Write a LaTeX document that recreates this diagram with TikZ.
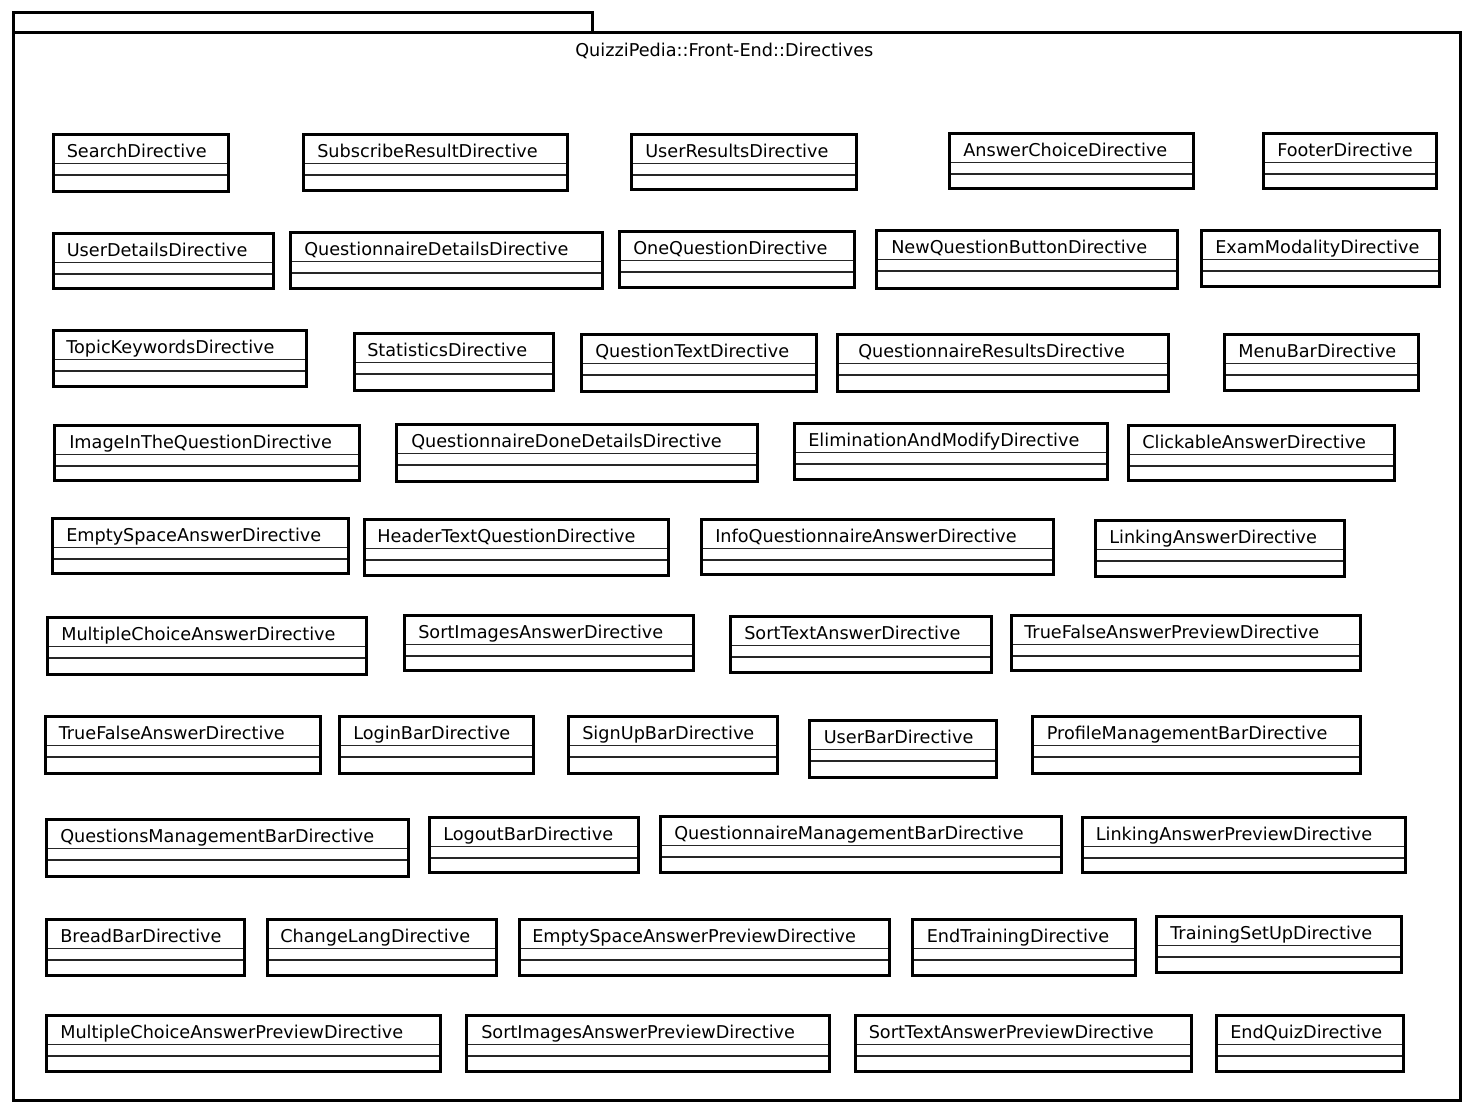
\documentclass[tikz,border=0pt]{standalone}
\usepackage{fontspec}
\setmainfont{DejaVu Sans}
\begin{document}
\begin{tikzpicture}[x=0.75pt,y=-0.75pt,
  pkgline/.style={line width=2.25pt,line join=miter},
  clsborder/.style={line width=2.25pt,line join=miter,fill=white},
  clsdiv/.style={line width=0.9pt,black!85},
  clsname/.style={anchor=base west,inner sep=0pt,font=\fontsize{13.25}{15}\selectfont},
  pkgname/.style={anchor=base west,inner sep=0pt,font=\fontsize{13.25}{15}\selectfont}]
\useasboundingbox (0,0) rectangle (1473,1113);

% package frame: tab and body
\draw[pkgline] (13,33) rectangle (592,13);
\draw[pkgline] (13,33) rectangle (1460,1100);
\node[pkgname] (pkg) at (575,56.5) {QuizziPedia::Front-End::Directives};

% class box: name, left, top, right, bottom, text x, label
\newcommand\umlcls[7]{%
  \draw[clsborder] (#2,#3) rectangle (#4,#5);
  \draw[clsdiv] (#2,#3+29.5) -- (#4,#3+29.5);
  \draw[clsdiv] (#2,#3+41) -- (#4,#3+41);
  \draw[line width=2.25pt] (#2,#3) rectangle (#4,#5);
  \node[clsname] (#1) at (#6,#3+23) {#7};}

% row 1
\umlcls{search}{53}{134}{228}{191}{66.5}{SearchDirective}
\umlcls{subscribe}{303}{134}{567}{190}{317}{SubscribeResultDirective}
\umlcls{userresults}{631}{134}{856}{189}{645}{UserResultsDirective}
\umlcls{answerchoice}{949}{133}{1193}{188}{963}{AnswerChoiceDirective}
\umlcls{footer}{1263}{133}{1436}{188}{1277}{FooterDirective}
% row 2
\umlcls{userdetails}{53}{233}{273}{288}{66.5}{UserDetailsDirective}
\umlcls{qdetails}{290}{232}{602}{288}{304}{QuestionnaireDetailsDirective}
\umlcls{onequestion}{619}{231}{854}{287}{633}{OneQuestionDirective}
\umlcls{newquestion}{876}{230}{1177}{288}{891}{NewQuestionButtonDirective}
\umlcls{exammodality}{1201}{230}{1439}{286}{1215}{ExamModalityDirective}
% row 3
\umlcls{topickeywords}{53}{330}{306}{386}{66}{TopicKeywordsDirective}
\umlcls{statistics}{354}{333}{553}{390}{367}{StatisticsDirective}
\umlcls{questiontext}{581}{334}{816}{391}{595}{QuestionTextDirective}
\umlcls{qresults}{837}{334}{1168}{391}{858}{QuestionnaireResultsDirective}
\umlcls{menubar}{1224}{334}{1418}{390}{1238}{MenuBarDirective}
% row 4
\umlcls{imageinq}{54}{425}{359}{480}{69}{ImageInTheQuestionDirective}
\umlcls{qdonedetails}{396}{424}{757}{481}{411}{QuestionnaireDoneDetailsDirective}
\umlcls{elimmodify}{794}{423}{1107}{479}{808}{EliminationAndModifyDirective}
\umlcls{clickable}{1128}{425}{1394}{480}{1142}{ClickableAnswerDirective}
% row 5
\umlcls{emptyspace}{52}{518}{348}{573}{66}{EmptySpaceAnswerDirective}
\umlcls{headertext}{364}{519}{668}{575}{377}{HeaderTextQuestionDirective}
\umlcls{infoq}{701}{519}{1053}{574}{715}{InfoQuestionnaireAnswerDirective}
\umlcls{linking}{1095}{520}{1344}{576}{1109}{LinkingAnswerDirective}
% row 6
\umlcls{multichoice}{47}{617}{366}{674}{61}{MultipleChoiceAnswerDirective}
\umlcls{sortimages}{404}{615}{693}{670}{418}{SortImagesAnswerDirective}
\umlcls{sorttext}{730}{616}{991}{672}{744}{SortTextAnswerDirective}
\umlcls{tfpreview}{1011}{615}{1360}{670}{1024}{TrueFalseAnswerPreviewDirective}
% row 7
\umlcls{truefalse}{45}{716}{320}{773}{58.5}{TrueFalseAnswerDirective}
\umlcls{loginbar}{339}{716}{533}{773}{353}{LoginBarDirective}
\umlcls{signupbar}{568}{716}{777}{773}{582}{SignUpBarDirective}
\umlcls{userbar}{809}{720}{996}{777}{823.5}{UserBarDirective}
\umlcls{profilebar}{1032}{716}{1360}{773}{1046.5}{ProfileManagementBarDirective}
% row 8
\umlcls{qmanagebar}{46}{819}{408}{876}{60}{QuestionsManagementBarDirective}
\umlcls{logoutbar}{429}{817}{638}{872}{443}{LogoutBarDirective}
\umlcls{qnmanagebar}{660}{816}{1061}{872}{674}{QuestionnaireManagementBarDirective}
\umlcls{linkpreview}{1082}{817}{1405}{872}{1095.5}{LinkingAnswerPreviewDirective}
% row 9
\umlcls{breadbar}{46}{919}{244}{975}{60}{BreadBarDirective}
\umlcls{changelang}{267}{919}{496}{975}{280}{ChangeLangDirective}
\umlcls{espreview}{519}{919}{889}{975}{532}{EmptySpaceAnswerPreviewDirective}
\umlcls{endtraining}{912}{919}{1135}{975}{926.5}{EndTrainingDirective}
\umlcls{trainingsetup}{1156}{916}{1401}{972}{1170}{TrainingSetUpDirective}
% row 10
\umlcls{mcpreview}{46.5}{1015}{440}{1071}{60}{MultipleChoiceAnswerPreviewDirective}
\umlcls{sipreview}{466.5}{1015}{829}{1071}{481}{SortImagesAnswerPreviewDirective}
\umlcls{stpreview}{855}{1015}{1191}{1071}{868.5}{SortTextAnswerPreviewDirective}
\umlcls{endquiz}{1216}{1015}{1403}{1071}{1230}{EndQuizDirective}
\end{tikzpicture}
\end{document}
